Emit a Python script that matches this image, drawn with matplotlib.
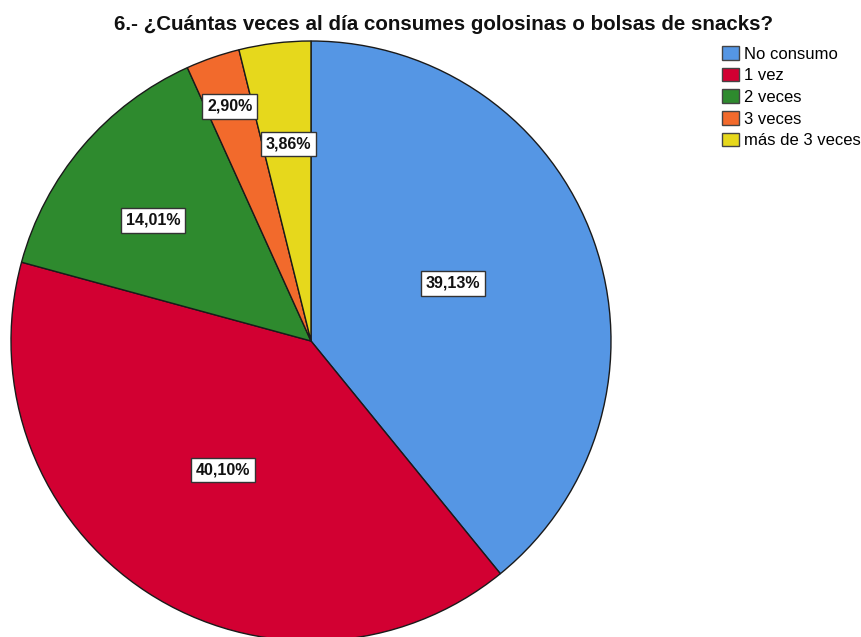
import numpy as np
import matplotlib.pyplot as plt

plt.rcParams['font.family'] = ['Liberation Sans', 'DejaVu Sans']

title = "6.- ¿Cuántas veces al día consumes golosinas o bolsas de snacks?"
categories = ["No consumo", "1 vez", "2 veces", "3 veces", "más de 3 veces"]
percentages = [39.13, 40.10, 14.01, 2.90, 3.86]
colors = ["#5596E4", "#D20032", "#2E8A2E", "#F26A2C", "#E6D81C"]

# label placement: distance from centre (fraction of radius) and angle nudge (deg)
label_radius = [0.51, 0.52, 0.663, 0.828, 0.661]
label_nudge = [2.6, -1.2, 3.1, 0.0, -0.4]

fig = plt.figure(figsize=(8.61, 6.37), dpi=100)
# pie circle spans px x 11..611, y 41..641
ax = fig.add_axes([11 / 861, (637 - 641) / 637, 600 / 861, 600 / 637])

wedges, _ = ax.pie(percentages, colors=colors, startangle=90, counterclock=False,
                   wedgeprops=dict(edgecolor="#1a1a1a", linewidth=1.0))
ax.set_xlim(-1, 1)
ax.set_ylim(-1, 1)
ax.set_aspect("equal")

for w, pct, r, da in zip(wedges, percentages, label_radius, label_nudge):
    ang = np.deg2rad((w.theta1 + w.theta2) / 2 + da)
    txt = f"{pct:.2f}%".replace(".", ",")
    ax.text(r * np.cos(ang), r * np.sin(ang), txt, ha="center", va="center",
            fontsize=11.5, fontweight="bold", color="#111111",
            bbox=dict(boxstyle="square,pad=0.3", fc="white", ec="#333333", lw=1.0))

fig.text(444 / 861, 1 - 24 / 637, title, ha="center", va="center",
         fontsize=14.8, fontweight="bold", color="#111111")

leg = fig.legend(wedges, categories, loc="upper left", bbox_to_anchor=(722 / 861, 1 - 46 / 637),
                 frameon=False, fontsize=12, handlelength=1.0, handleheight=0.875,
                 handletextpad=0.3, labelspacing=0.37, borderpad=0, borderaxespad=0)
for h in leg.legend_handles:
    h.set_edgecolor("#444444")

fig.savefig("out.png", dpi=100)
